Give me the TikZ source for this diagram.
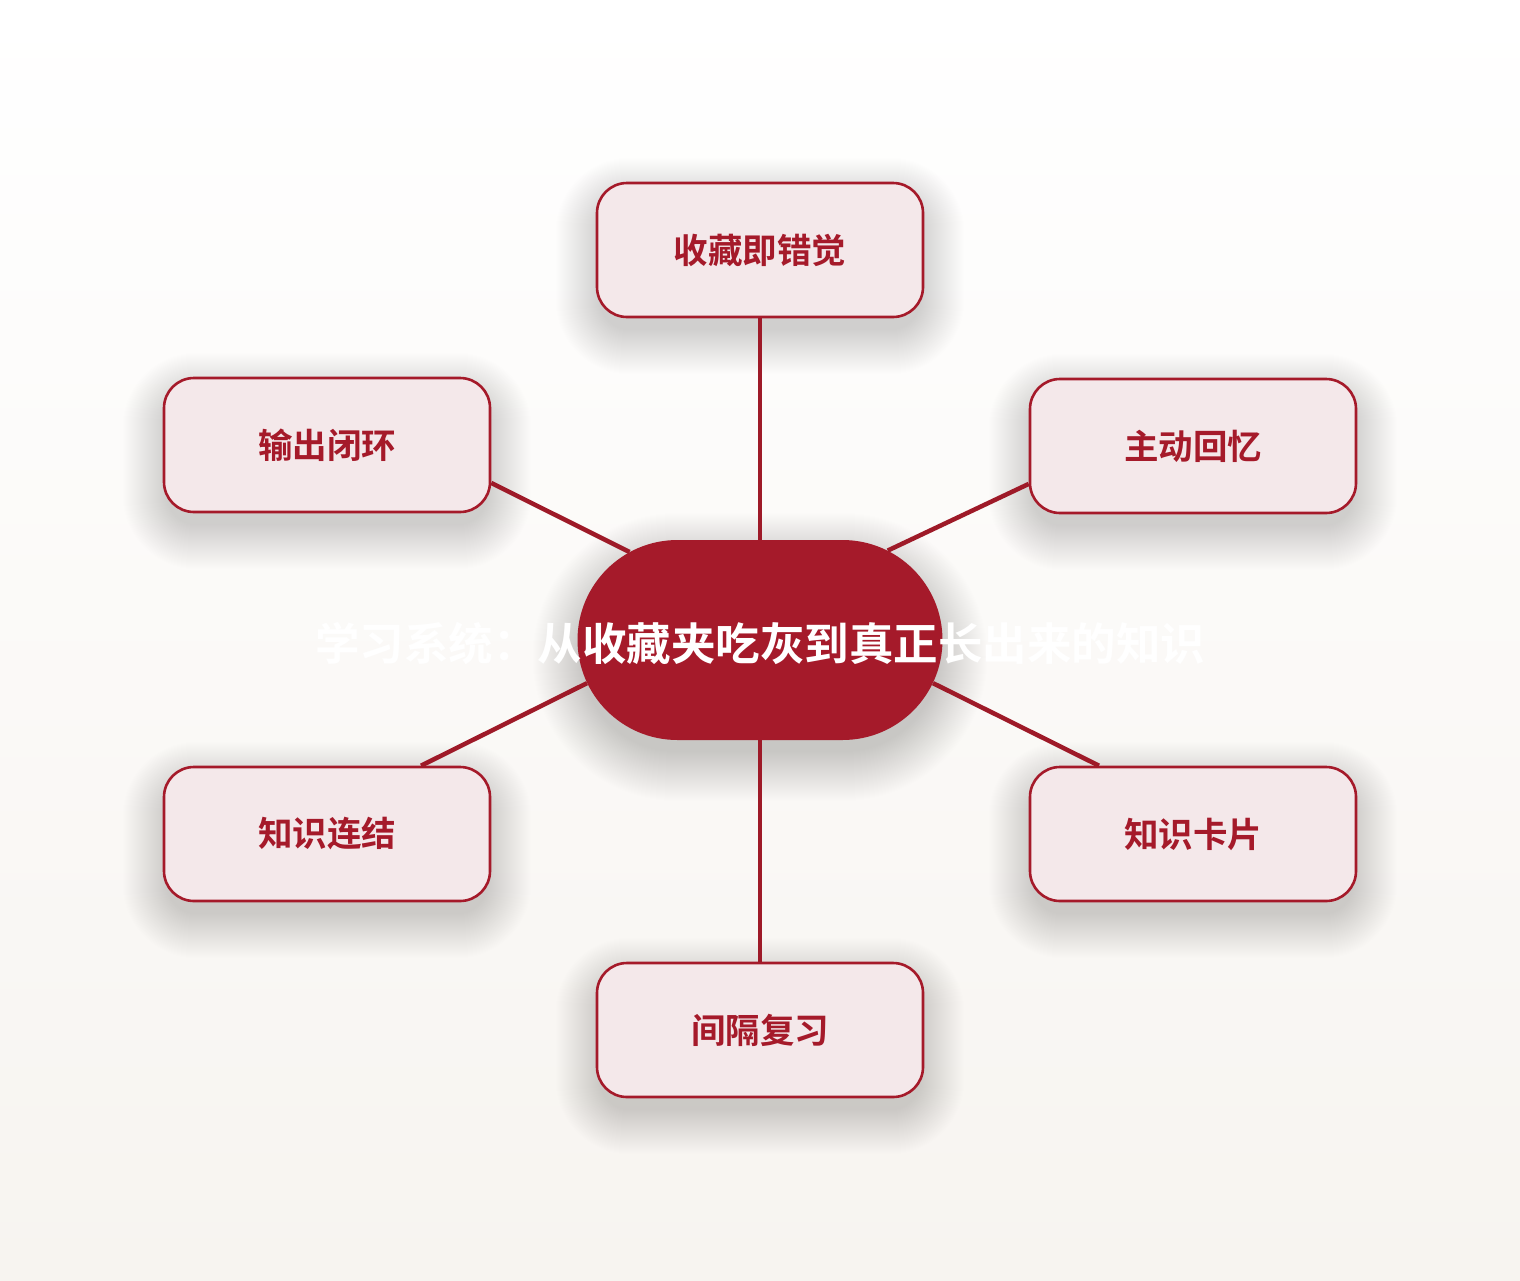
\documentclass[tikz,border=0pt]{standalone}
\usepackage{fontspec}
\setmainfont{Noto Sans CJK SC}[BoldFont={* Bold}]
\usetikzlibrary{shapes.misc,calc}
\pgfdeclarelayer{bg}
\pgfdeclarelayer{shadow}
\pgfsetlayers{bg,shadow,main}
\definecolor{crim}{HTML}{A51A2A}
\definecolor{linecol}{HTML}{9E1A28}
\definecolor{pinkfill}{HTML}{F4E8EA}
\definecolor{bgbot}{HTML}{F7F4F0}
\definecolor{shadowcol}{HTML}{4A4540}
\tikzset{
  leaf/.style={draw=crim, line width=2.6pt, fill=pinkfill, rounded corners=30pt,
    minimum width=326pt, minimum height=134pt, text=crim,
    font=\bfseries\fontsize{34.5}{38}\selectfont},
  hub/.style={rounded rectangle, fill=crim, minimum width=365pt, minimum height=200pt, inner sep=0pt},
  hubtext/.style={text=white, font=\bfseries\fontsize{44.5}{48}\selectfont},
  link/.style={draw=linecol, line width=4.5pt},
  softshadow/.style={fill=shadowcol, fill opacity=0.0045},
  hubshadow/.style={rounded rectangle, inner sep=0pt, fill=shadowcol, fill opacity=0.0055}
}
\begin{document}
\begin{tikzpicture}[x=1pt,y=-1pt]
\useasboundingbox (0,0) rectangle (1520,1280);
\begin{pgfonlayer}{bg}
\shade[top color=white, bottom color=bgbot] (0,0) rectangle (1520,1280);
\end{pgfonlayer}
\node[leaf] (tp) at (760,250) {收藏即错觉};
\node[leaf] (ul) at (327,445) {输出闭环};
\node[leaf] (ur) at (1193,446) {主动回忆};
\node[leaf] (ll) at (327,834) {知识连结};
\node[leaf] (lr) at (1193,834) {知识卡片};
\node[leaf] (bt) at (760,1030) {间隔复习};
\node[hub] (c) at (760,640) {};
\begin{pgfonlayer}{shadow}
\foreach \n in {tp,ul,ur,ll,lr,bt}{
  \foreach \k in {0,...,44}{
    \fill[softshadow, rounded corners=30+\k]
      ($(\n.north west)+(-\k+4,-\k+20)$) rectangle ($(\n.south east)+(\k-4,\k+12)$);
  }
}
\foreach \k in {0,...,49}{
  \node[hubshadow, minimum width={357pt+2pt*\k}, minimum height={190pt+2pt*\k}]
    (hs\k) at ($(c)+(0,17)$) {};
}
\end{pgfonlayer}
\draw[link] (c.north) -- (tp.south);
\draw[link] (c.south) -- (bt.north);
\draw[link] (c.146) -- (ul.-13.5);
\draw[link] (c.35) -- (ur.193.5);
\draw[link] (c.194) -- (ll.36.4);
\draw[link] (c.-14) -- (lr.144.2);
\node[hubtext] (ct) at (760,643) {学习系统：从收藏夹吃灰到真正长出来的知识};
\end{tikzpicture}
\end{document}
